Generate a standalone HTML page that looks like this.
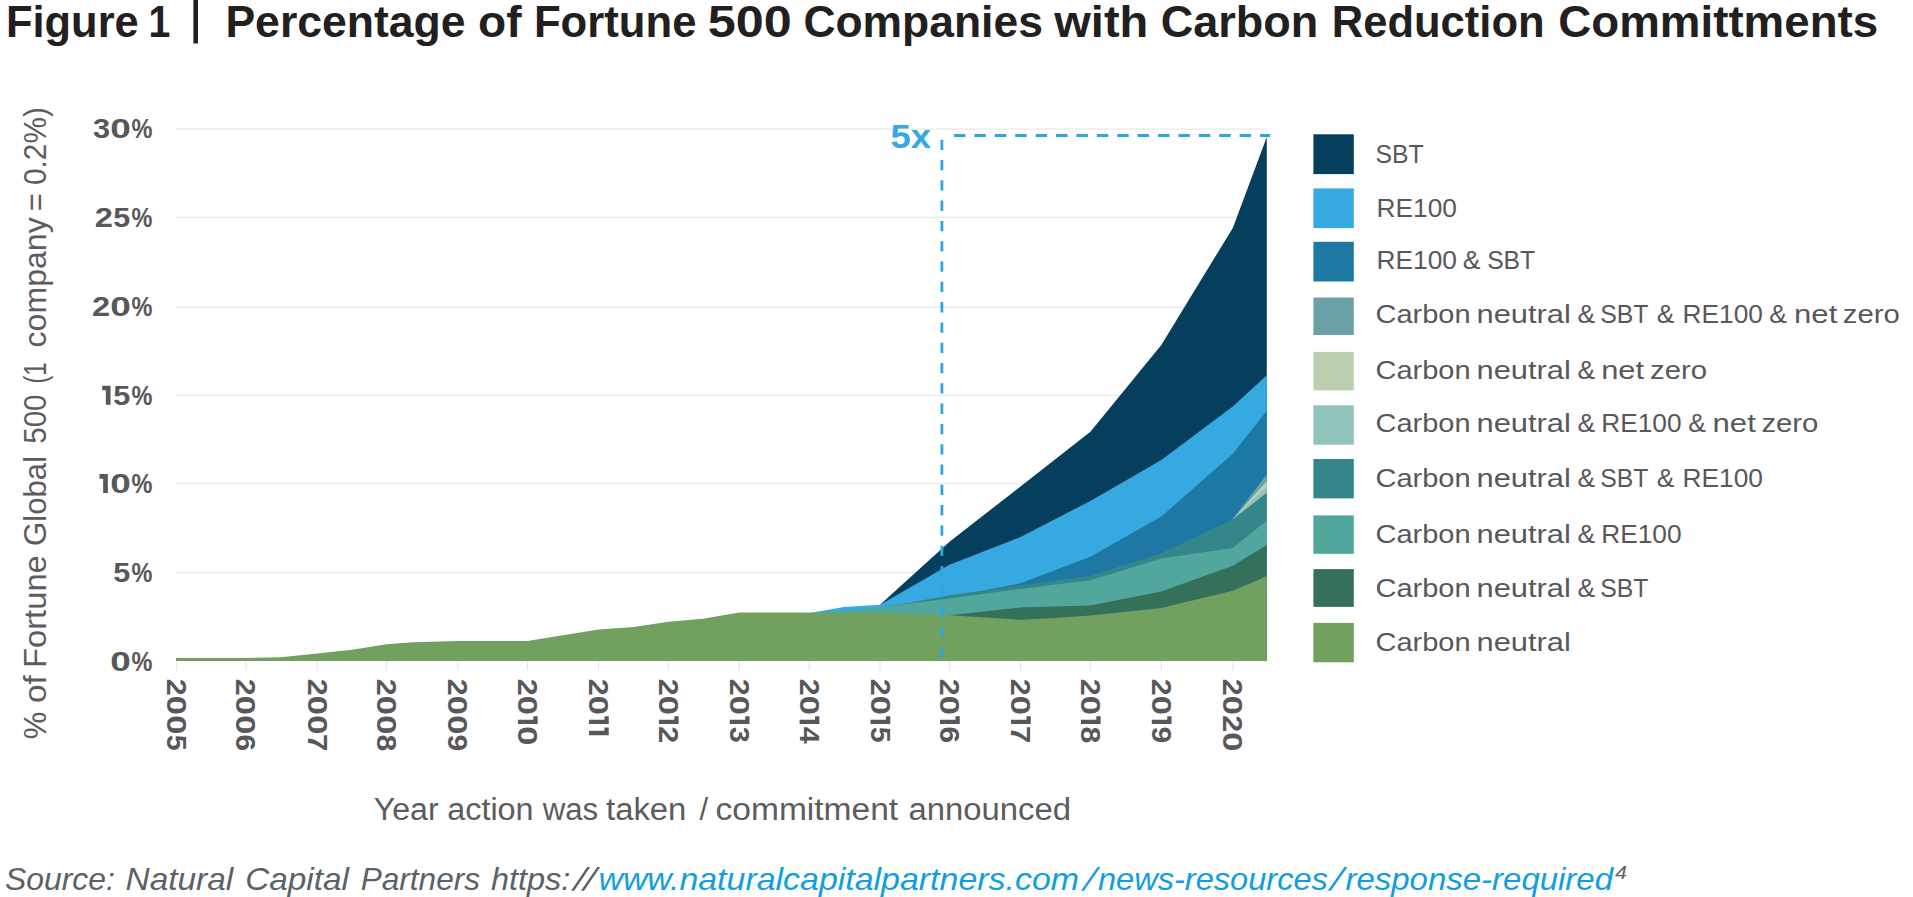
<!DOCTYPE html>
<html><head><meta charset="utf-8"><title>Figure 1</title>
<style>
html,body{margin:0;padding:0;background:#fff;}
svg{display:block;}
text{font-family:"Liberation Sans",sans-serif;}
.b{font-weight:bold;}
.i{font-style:italic;}
</style></head><body>
<svg width="1913" height="897" viewBox="0 0 1913 897">
<rect width="1913" height="897" fill="#ffffff"/>
<g class="b" font-size="43.5" fill="#231f20">
<text x="6.0" y="36.8" textLength="132.7" lengthAdjust="spacingAndGlyphs">Figure</text>
<text x="148.5" y="36.8" textLength="21.8" lengthAdjust="spacingAndGlyphs">1</text>
<text x="225.4" y="36.8" textLength="240.2" lengthAdjust="spacingAndGlyphs">Percentage</text>
<text x="478.0" y="36.8" textLength="43.5" lengthAdjust="spacingAndGlyphs">of</text>
<text x="533.9" y="36.8" textLength="162.6" lengthAdjust="spacingAndGlyphs">Fortune</text>
<text x="707.8" y="36.8" textLength="84.0" lengthAdjust="spacingAndGlyphs">500</text>
<text x="803.4" y="36.8" textLength="239.5" lengthAdjust="spacingAndGlyphs">Companies</text>
<text x="1054.3" y="36.8" textLength="94.0" lengthAdjust="spacingAndGlyphs">with</text>
<text x="1160.7" y="36.8" textLength="157.6" lengthAdjust="spacingAndGlyphs">Carbon</text>
<text x="1331.8" y="36.8" textLength="212.8" lengthAdjust="spacingAndGlyphs">Reduction</text>
<text x="1558.3" y="36.8" textLength="319.9" lengthAdjust="spacingAndGlyphs">Committments</text>
</g>
<rect x="193.4" y="0" width="4.6" height="43.5" fill="#231f20"/>
<rect x="176" y="128.50" width="1090.8" height="1.2" fill="#e7e8e9"/>
<rect x="176" y="216.60" width="1090.8" height="1.2" fill="#e7e8e9"/>
<rect x="176" y="306.70" width="1090.8" height="1.2" fill="#e7e8e9"/>
<rect x="176" y="394.80" width="1090.8" height="1.2" fill="#e7e8e9"/>
<rect x="176" y="483.00" width="1090.8" height="1.2" fill="#e7e8e9"/>
<rect x="176" y="571.70" width="1090.8" height="1.2" fill="#e7e8e9"/>
<polygon points="880,604.7 949.5,541.7 1020.5,486.5 1090.4,431.7 1161.3,345 1232.8,227.9 1266.8,137 1266.8,661 880,661" fill="#063f5e"/>
<polygon points="811,612.7 844,607 880,604.7 949.5,564.7 1020.5,536.9 1090.4,500.9 1161.3,460 1232.8,406.6 1266.8,375.3 1266.8,661 811,661" fill="#37a9e1"/>
<polygon points="985,590.2 1020.5,583.3 1090.4,556.7 1161.3,516.6 1232.8,453.7 1266.8,410.8 1266.8,661 985,661" fill="#1e78a4"/>
<polygon points="1232.8,518.9 1266.8,474.5 1266.8,661 1232.8,661" fill="#6ba2a7"/>
<polygon points="1232.8,518.9 1266.8,481.2 1266.8,661 1232.8,661" fill="#b9cfb0"/>
<polygon points="1232.8,518.9 1266.8,486.2 1266.8,661 1232.8,661" fill="#8fc3bb"/>
<polygon points="880,607.2 900,604.6 949.5,595.2 1020.5,585.2 1090.4,575.8 1161.3,553.2 1232.8,519.3 1266.8,492.8 1266.8,661 880,661" fill="#35868a"/>
<polygon points="822,612.7 852.5,610.1 880,607.2 949.5,598.4 1020.5,589 1090.4,580.2 1161.3,558.4 1232.8,548 1266.8,520.5 1266.8,661 822,661" fill="#52a79d"/>
<polygon points="949.5,615.3 1020.5,607.5 1090.4,605.5 1161.3,591.4 1232.8,565.7 1266.8,545.1 1266.8,661 949.5,661" fill="#35705b"/>
<polygon points="176,658.0 245.9,658.0 281,657.2 317,653.6 352,649.8 386.5,644.2 413,642.3 457.8,641 527.4,641 598.5,629.6 634,627 668.4,621.8 703,618.7 739.3,612.5 809.1,612.6 880,613.1 949.5,615.3 1020.5,619.7 1055,618 1090.4,615.5 1161.3,608 1232.8,590.8 1266.8,576.2 1266.8,661 176,661" fill="#72a05e"/>
<rect x="175.8" y="661" width="1.2" height="9.6" fill="#e4e5e6"/>
<rect x="245.3" y="661" width="1.2" height="9.6" fill="#e4e5e6"/>
<rect x="316.4" y="661" width="1.2" height="9.6" fill="#e4e5e6"/>
<rect x="385.9" y="661" width="1.2" height="9.6" fill="#e4e5e6"/>
<rect x="457.2" y="661" width="1.2" height="9.6" fill="#e4e5e6"/>
<rect x="526.8" y="661" width="1.2" height="9.6" fill="#e4e5e6"/>
<rect x="597.9" y="661" width="1.2" height="9.6" fill="#e4e5e6"/>
<rect x="667.8" y="661" width="1.2" height="9.6" fill="#e4e5e6"/>
<rect x="738.7" y="661" width="1.2" height="9.6" fill="#e4e5e6"/>
<rect x="808.5" y="661" width="1.2" height="9.6" fill="#e4e5e6"/>
<rect x="879.4" y="661" width="1.2" height="9.6" fill="#e4e5e6"/>
<rect x="948.9" y="661" width="1.2" height="9.6" fill="#e4e5e6"/>
<rect x="1019.9" y="661" width="1.2" height="9.6" fill="#e4e5e6"/>
<rect x="1089.8" y="661" width="1.2" height="9.6" fill="#e4e5e6"/>
<rect x="1160.7" y="661" width="1.2" height="9.6" fill="#e4e5e6"/>
<rect x="1232.2" y="661" width="1.2" height="9.6" fill="#e4e5e6"/>
<line x1="941.9" y1="139.7" x2="941.9" y2="657.5" stroke="#2ca6e0" stroke-width="2.8" stroke-dasharray="10.3 10"/>
<line x1="954.0" y1="135.5" x2="1270" y2="135.5" stroke="#2ca6e0" stroke-width="3" stroke-dasharray="11.5 8.9"/>
<text class="b" x="890.5" y="147.8" font-size="33.5" fill="#37a9e1" textLength="40.5" lengthAdjust="spacingAndGlyphs">5x</text>
<g class="b" font-size="27.3" fill="#58585a">
<text x="92.91" y="138.30" textLength="17.14" lengthAdjust="spacingAndGlyphs">3</text><text x="110.31" y="138.30" textLength="20.55" lengthAdjust="spacingAndGlyphs">0</text><text x="131.60" y="138.30" textLength="20.92" lengthAdjust="spacingAndGlyphs">%</text>
<text x="94.78" y="226.70" textLength="18.19" lengthAdjust="spacingAndGlyphs">2</text><text x="113.35" y="226.70" textLength="17.01" lengthAdjust="spacingAndGlyphs">5</text><text x="131.60" y="226.70" textLength="20.92" lengthAdjust="spacingAndGlyphs">%</text>
<text x="92.11" y="316.00" textLength="18.19" lengthAdjust="spacingAndGlyphs">2</text><text x="110.31" y="316.00" textLength="20.55" lengthAdjust="spacingAndGlyphs">0</text><text x="131.60" y="316.00" textLength="20.92" lengthAdjust="spacingAndGlyphs">%</text>
<path d="M105.83,404.80 L110.54,404.80 L110.54,385.74 L102.19,385.74 L102.19,390.35 L105.83,390.35 Z"/><text x="113.35" y="404.80" textLength="17.01" lengthAdjust="spacingAndGlyphs">5</text><text x="131.60" y="404.80" textLength="20.92" lengthAdjust="spacingAndGlyphs">%</text>
<path d="M103.15,493.10 L107.86,493.10 L107.86,474.04 L99.51,474.04 L99.51,478.65 L103.15,478.65 Z"/><text x="110.31" y="493.10" textLength="20.55" lengthAdjust="spacingAndGlyphs">0</text><text x="131.60" y="493.10" textLength="20.92" lengthAdjust="spacingAndGlyphs">%</text>
<text x="113.35" y="581.80" textLength="17.01" lengthAdjust="spacingAndGlyphs">5</text><text x="131.60" y="581.80" textLength="20.92" lengthAdjust="spacingAndGlyphs">%</text>
<text x="110.31" y="670.50" textLength="20.55" lengthAdjust="spacingAndGlyphs">0</text><text x="131.60" y="670.50" textLength="20.92" lengthAdjust="spacingAndGlyphs">%</text>
</g>
<g class="b" font-size="28.3" fill="#58585a">
<g transform="translate(166.9,679.9) rotate(90)"><text x="-1.06" y="0.00" textLength="16.98" lengthAdjust="spacingAndGlyphs">2</text><text x="15.94" y="0.00" textLength="19.18" lengthAdjust="spacingAndGlyphs">0</text><text x="35.24" y="0.00" textLength="19.18" lengthAdjust="spacingAndGlyphs">0</text><text x="54.87" y="0.00" textLength="15.87" lengthAdjust="spacingAndGlyphs">5</text></g>
<g transform="translate(236.4,679.9) rotate(90)"><text x="-1.06" y="0.00" textLength="16.98" lengthAdjust="spacingAndGlyphs">2</text><text x="15.94" y="0.00" textLength="19.18" lengthAdjust="spacingAndGlyphs">0</text><text x="35.24" y="0.00" textLength="19.18" lengthAdjust="spacingAndGlyphs">0</text><text x="54.66" y="0.00" textLength="16.57" lengthAdjust="spacingAndGlyphs">6</text></g>
<g transform="translate(307.5,679.9) rotate(90)"><text x="-1.06" y="0.00" textLength="16.98" lengthAdjust="spacingAndGlyphs">2</text><text x="15.94" y="0.00" textLength="19.18" lengthAdjust="spacingAndGlyphs">0</text><text x="35.24" y="0.00" textLength="19.18" lengthAdjust="spacingAndGlyphs">0</text><text x="54.11" y="0.00" textLength="17.30" lengthAdjust="spacingAndGlyphs">7</text></g>
<g transform="translate(377.0,679.9) rotate(90)"><text x="-1.06" y="0.00" textLength="16.98" lengthAdjust="spacingAndGlyphs">2</text><text x="15.94" y="0.00" textLength="19.18" lengthAdjust="spacingAndGlyphs">0</text><text x="35.24" y="0.00" textLength="19.18" lengthAdjust="spacingAndGlyphs">0</text><text x="54.69" y="0.00" textLength="16.90" lengthAdjust="spacingAndGlyphs">8</text></g>
<g transform="translate(448.3,679.9) rotate(90)"><text x="-1.06" y="0.00" textLength="16.98" lengthAdjust="spacingAndGlyphs">2</text><text x="15.94" y="0.00" textLength="19.18" lengthAdjust="spacingAndGlyphs">0</text><text x="35.24" y="0.00" textLength="19.18" lengthAdjust="spacingAndGlyphs">0</text><text x="54.60" y="0.00" textLength="16.76" lengthAdjust="spacingAndGlyphs">9</text></g>
<g transform="translate(517.9,679.9) rotate(90)"><text x="-1.06" y="0.00" textLength="16.98" lengthAdjust="spacingAndGlyphs">2</text><text x="15.94" y="0.00" textLength="19.18" lengthAdjust="spacingAndGlyphs">0</text><path d="M39.75,0.00 L44.15,0.00 L44.15,-19.75 L36.35,-19.75 L36.35,-15.45 L39.75,-15.45 Z"/><text x="46.44" y="0.00" textLength="19.18" lengthAdjust="spacingAndGlyphs">0</text></g>
<g transform="translate(589.0,679.9) rotate(90)"><text x="-1.06" y="0.00" textLength="16.98" lengthAdjust="spacingAndGlyphs">2</text><text x="15.94" y="0.00" textLength="19.18" lengthAdjust="spacingAndGlyphs">0</text><path d="M39.75,0.00 L44.15,0.00 L44.15,-19.75 L36.35,-19.75 L36.35,-15.45 L39.75,-15.45 Z"/><path d="M50.95,0.00 L55.35,0.00 L55.35,-19.75 L47.55,-19.75 L47.55,-15.45 L50.95,-15.45 Z"/></g>
<g transform="translate(658.9,679.9) rotate(90)"><text x="-1.06" y="0.00" textLength="16.98" lengthAdjust="spacingAndGlyphs">2</text><text x="15.94" y="0.00" textLength="19.18" lengthAdjust="spacingAndGlyphs">0</text><path d="M39.75,0.00 L44.15,0.00 L44.15,-19.75 L36.35,-19.75 L36.35,-15.45 L39.75,-15.45 Z"/><text x="46.44" y="0.00" textLength="16.98" lengthAdjust="spacingAndGlyphs">2</text></g>
<g transform="translate(729.8,679.9) rotate(90)"><text x="-1.06" y="0.00" textLength="16.98" lengthAdjust="spacingAndGlyphs">2</text><text x="15.94" y="0.00" textLength="19.18" lengthAdjust="spacingAndGlyphs">0</text><path d="M39.75,0.00 L44.15,0.00 L44.15,-19.75 L36.35,-19.75 L36.35,-15.45 L39.75,-15.45 Z"/><text x="46.89" y="0.00" textLength="16.00" lengthAdjust="spacingAndGlyphs">3</text></g>
<g transform="translate(799.6,679.9) rotate(90)"><text x="-1.06" y="0.00" textLength="16.98" lengthAdjust="spacingAndGlyphs">2</text><text x="15.94" y="0.00" textLength="19.18" lengthAdjust="spacingAndGlyphs">0</text><path d="M39.75,0.00 L44.15,0.00 L44.15,-19.75 L36.35,-19.75 L36.35,-15.45 L39.75,-15.45 Z"/><text x="46.79" y="0.00" textLength="16.82" lengthAdjust="spacingAndGlyphs">4</text></g>
<g transform="translate(870.5,679.9) rotate(90)"><text x="-1.06" y="0.00" textLength="16.98" lengthAdjust="spacingAndGlyphs">2</text><text x="15.94" y="0.00" textLength="19.18" lengthAdjust="spacingAndGlyphs">0</text><path d="M39.75,0.00 L44.15,0.00 L44.15,-19.75 L36.35,-19.75 L36.35,-15.45 L39.75,-15.45 Z"/><text x="46.77" y="0.00" textLength="15.87" lengthAdjust="spacingAndGlyphs">5</text></g>
<g transform="translate(940.0,679.9) rotate(90)"><text x="-1.06" y="0.00" textLength="16.98" lengthAdjust="spacingAndGlyphs">2</text><text x="15.94" y="0.00" textLength="19.18" lengthAdjust="spacingAndGlyphs">0</text><path d="M39.75,0.00 L44.15,0.00 L44.15,-19.75 L36.35,-19.75 L36.35,-15.45 L39.75,-15.45 Z"/><text x="46.56" y="0.00" textLength="16.57" lengthAdjust="spacingAndGlyphs">6</text></g>
<g transform="translate(1011.0,679.9) rotate(90)"><text x="-1.06" y="0.00" textLength="16.98" lengthAdjust="spacingAndGlyphs">2</text><text x="15.94" y="0.00" textLength="19.18" lengthAdjust="spacingAndGlyphs">0</text><path d="M39.75,0.00 L44.15,0.00 L44.15,-19.75 L36.35,-19.75 L36.35,-15.45 L39.75,-15.45 Z"/><text x="46.01" y="0.00" textLength="17.30" lengthAdjust="spacingAndGlyphs">7</text></g>
<g transform="translate(1080.9,679.9) rotate(90)"><text x="-1.06" y="0.00" textLength="16.98" lengthAdjust="spacingAndGlyphs">2</text><text x="15.94" y="0.00" textLength="19.18" lengthAdjust="spacingAndGlyphs">0</text><path d="M39.75,0.00 L44.15,0.00 L44.15,-19.75 L36.35,-19.75 L36.35,-15.45 L39.75,-15.45 Z"/><text x="46.59" y="0.00" textLength="16.90" lengthAdjust="spacingAndGlyphs">8</text></g>
<g transform="translate(1151.8,679.9) rotate(90)"><text x="-1.06" y="0.00" textLength="16.98" lengthAdjust="spacingAndGlyphs">2</text><text x="15.94" y="0.00" textLength="19.18" lengthAdjust="spacingAndGlyphs">0</text><path d="M39.75,0.00 L44.15,0.00 L44.15,-19.75 L36.35,-19.75 L36.35,-15.45 L39.75,-15.45 Z"/><text x="46.50" y="0.00" textLength="16.76" lengthAdjust="spacingAndGlyphs">9</text></g>
<g transform="translate(1223.3,679.9) rotate(90)"><text x="-1.06" y="0.00" textLength="16.98" lengthAdjust="spacingAndGlyphs">2</text><text x="15.94" y="0.00" textLength="19.18" lengthAdjust="spacingAndGlyphs">0</text><text x="35.24" y="0.00" textLength="16.98" lengthAdjust="spacingAndGlyphs">2</text><text x="52.24" y="0.00" textLength="19.18" lengthAdjust="spacingAndGlyphs">0</text></g>
</g>
<g transform="translate(46.2,736) rotate(-90)" font-size="31" fill="#5c5c5e">
<text x="10.5" y="0" text-anchor="middle">%</text>
<text x="32.9" y="0" textLength="27.8" lengthAdjust="spacingAndGlyphs">of</text>
<text x="68.0" y="0" textLength="112.8" lengthAdjust="spacingAndGlyphs">Fortune</text>
<text x="190.1" y="0" textLength="90.0" lengthAdjust="spacingAndGlyphs">Global</text>
<text x="292.2" y="0" textLength="49.4" lengthAdjust="spacingAndGlyphs">500</text>
<text x="352.4" y="0" textLength="21.3" lengthAdjust="spacingAndGlyphs">(1</text>
<text x="388.6" y="0" textLength="130.1" lengthAdjust="spacingAndGlyphs">company</text>
<text x="533.8" y="0" text-anchor="middle">=</text>
<text x="550.9" y="0" textLength="78.0" lengthAdjust="spacingAndGlyphs">0.2%)</text>
</g>
<g font-size="31" fill="#5c5c5e">
<text x="373.7" y="819.5" textLength="64.9" lengthAdjust="spacingAndGlyphs">Year</text>
<text x="447.3" y="819.5" textLength="86.3" lengthAdjust="spacingAndGlyphs">action</text>
<text x="542.7" y="819.5" textLength="55.5" lengthAdjust="spacingAndGlyphs">was</text>
<text x="606.0" y="819.5" textLength="80.4" lengthAdjust="spacingAndGlyphs">taken</text>
<text x="703.8" y="819.5" text-anchor="middle">/</text>
<text x="715.5" y="819.5" textLength="182.7" lengthAdjust="spacingAndGlyphs">commitment</text>
<text x="908.5" y="819.5" textLength="162.5" lengthAdjust="spacingAndGlyphs">announced</text>
</g>
<g font-size="26.5" fill="#58585a">
<rect x="1313.4" y="134.3" width="40.4" height="39.8" fill="#063f5e"/>
<text x="1375.5" y="163.3" textLength="48.2" lengthAdjust="spacingAndGlyphs">SBT</text>
<rect x="1313.4" y="188.4" width="40.4" height="39.7" fill="#37a9e1"/>
<text x="1376.5" y="217" textLength="80.4" lengthAdjust="spacingAndGlyphs">RE100</text>
<rect x="1313.4" y="241.8" width="40.4" height="39.7" fill="#1e78a4"/>
<text x="1376.5" y="269.2" textLength="80.4" lengthAdjust="spacingAndGlyphs">RE100</text><text x="1471.5" y="269.2" text-anchor="middle">&amp;</text><text x="1487.2" y="269.2" textLength="47.9" lengthAdjust="spacingAndGlyphs">SBT</text>
<rect x="1313.4" y="297.5" width="40.4" height="37.5" fill="#6ba2a7"/>
<text x="1375.5" y="322.9" textLength="95.1" lengthAdjust="spacingAndGlyphs">Carbon</text><text x="1476.5" y="322.9" textLength="94.4" lengthAdjust="spacingAndGlyphs">neutral</text><text x="1586.3" y="322.9" text-anchor="middle">&amp;</text><text x="1600.2" y="322.9" textLength="48.2" lengthAdjust="spacingAndGlyphs">SBT</text><text x="1665.7" y="322.9" text-anchor="middle">&amp;</text><text x="1682.6" y="322.9" textLength="80.4" lengthAdjust="spacingAndGlyphs">RE100</text><text x="1778.0" y="322.9" text-anchor="middle">&amp;</text><text x="1794.0" y="322.9" textLength="43.3" lengthAdjust="spacingAndGlyphs">net</text><text x="1842.8" y="322.9" textLength="57.0" lengthAdjust="spacingAndGlyphs">zero</text>
<rect x="1313.4" y="351.9" width="40.4" height="38.4" fill="#b9cfb0"/>
<text x="1375.5" y="378.9" textLength="95.1" lengthAdjust="spacingAndGlyphs">Carbon</text><text x="1476.5" y="378.9" textLength="94.4" lengthAdjust="spacingAndGlyphs">neutral</text><text x="1586.3" y="378.9" text-anchor="middle">&amp;</text><text x="1601.2" y="378.9" textLength="42.9" lengthAdjust="spacingAndGlyphs">net</text><text x="1650.0" y="378.9" textLength="57.0" lengthAdjust="spacingAndGlyphs">zero</text>
<rect x="1313.4" y="405.3" width="40.4" height="39.4" fill="#8fc3bb"/>
<text x="1375.5" y="432.3" textLength="95.1" lengthAdjust="spacingAndGlyphs">Carbon</text><text x="1476.5" y="432.3" textLength="94.4" lengthAdjust="spacingAndGlyphs">neutral</text><text x="1586.3" y="432.3" text-anchor="middle">&amp;</text><text x="1601.2" y="432.3" textLength="80.4" lengthAdjust="spacingAndGlyphs">RE100</text><text x="1697.1" y="432.3" text-anchor="middle">&amp;</text><text x="1712.6" y="432.3" textLength="43.2" lengthAdjust="spacingAndGlyphs">net</text><text x="1761.4" y="432.3" textLength="57.0" lengthAdjust="spacingAndGlyphs">zero</text>
<rect x="1313.4" y="459" width="40.4" height="39.4" fill="#35868a"/>
<text x="1375.5" y="486.7" textLength="95.1" lengthAdjust="spacingAndGlyphs">Carbon</text><text x="1476.5" y="486.7" textLength="94.4" lengthAdjust="spacingAndGlyphs">neutral</text><text x="1586.3" y="486.7" text-anchor="middle">&amp;</text><text x="1600.2" y="486.7" textLength="48.2" lengthAdjust="spacingAndGlyphs">SBT</text><text x="1665.7" y="486.7" text-anchor="middle">&amp;</text><text x="1682.6" y="486.7" textLength="80.4" lengthAdjust="spacingAndGlyphs">RE100</text>
<rect x="1313.4" y="515.4" width="40.4" height="38.4" fill="#52a79d"/>
<text x="1375.5" y="543.1" textLength="95.1" lengthAdjust="spacingAndGlyphs">Carbon</text><text x="1476.5" y="543.1" textLength="94.4" lengthAdjust="spacingAndGlyphs">neutral</text><text x="1586.3" y="543.1" text-anchor="middle">&amp;</text><text x="1601.2" y="543.1" textLength="80.4" lengthAdjust="spacingAndGlyphs">RE100</text>
<rect x="1313.4" y="569.1" width="40.4" height="37.8" fill="#35705b"/>
<text x="1375.5" y="596.8" textLength="95.1" lengthAdjust="spacingAndGlyphs">Carbon</text><text x="1476.5" y="596.8" textLength="94.4" lengthAdjust="spacingAndGlyphs">neutral</text><text x="1586.3" y="596.8" text-anchor="middle">&amp;</text><text x="1600.2" y="596.8" textLength="48.2" lengthAdjust="spacingAndGlyphs">SBT</text>
<rect x="1313.4" y="622.9" width="40.4" height="39.4" fill="#72a05e"/>
<text x="1375.5" y="651.2" textLength="95.1" lengthAdjust="spacingAndGlyphs">Carbon</text><text x="1476.5" y="651.2" textLength="94.4" lengthAdjust="spacingAndGlyphs">neutral</text>
</g>
<g class="i" font-size="32" fill="#5a6268">
<text x="5" y="890.4" textLength="109.8" lengthAdjust="spacingAndGlyphs">Source:</text>
<text x="125.5" y="890.4" textLength="107.7" lengthAdjust="spacingAndGlyphs">Natural</text>
<text x="245.2" y="890.4" textLength="103.8" lengthAdjust="spacingAndGlyphs">Capital</text>
<text x="360.7" y="890.4" textLength="119.3" lengthAdjust="spacingAndGlyphs">Partners</text>
<text x="491" y="890.4" textLength="79.3" lengthAdjust="spacingAndGlyphs">https:</text>
<text x="598.4" y="890.4" fill="#129ede" textLength="480.6" lengthAdjust="spacingAndGlyphs">www.naturalcapitalpartners.com</text>
<text x="1097.9" y="890.4" fill="#129ede" textLength="230.0" lengthAdjust="spacingAndGlyphs">news-resources</text>
<text x="1345.5" y="890.4" fill="#129ede" textLength="267.5" lengthAdjust="spacingAndGlyphs">response-required</text>
<polygon points="1081.0,890.8 1083.9,890.8 1100.5,867.1 1097.6,867.1" fill="#129ede"/>
<polygon points="1327.8,890.8 1330.8,890.8 1347.5,867.1 1344.5,867.1" fill="#129ede"/>
<polygon points="571.1,890.8 574.1,890.8 590.2,867.1 587.2,867.1" fill="#5a6268"/>
<polygon points="581.0,890.8 584.0,890.8 600.2,867.1 597.3,867.1" fill="#5a6268"/>
<text x="1615" y="878.7" font-size="19" textLength="12" lengthAdjust="spacingAndGlyphs">4</text>
</g>
</svg>
</body></html>
